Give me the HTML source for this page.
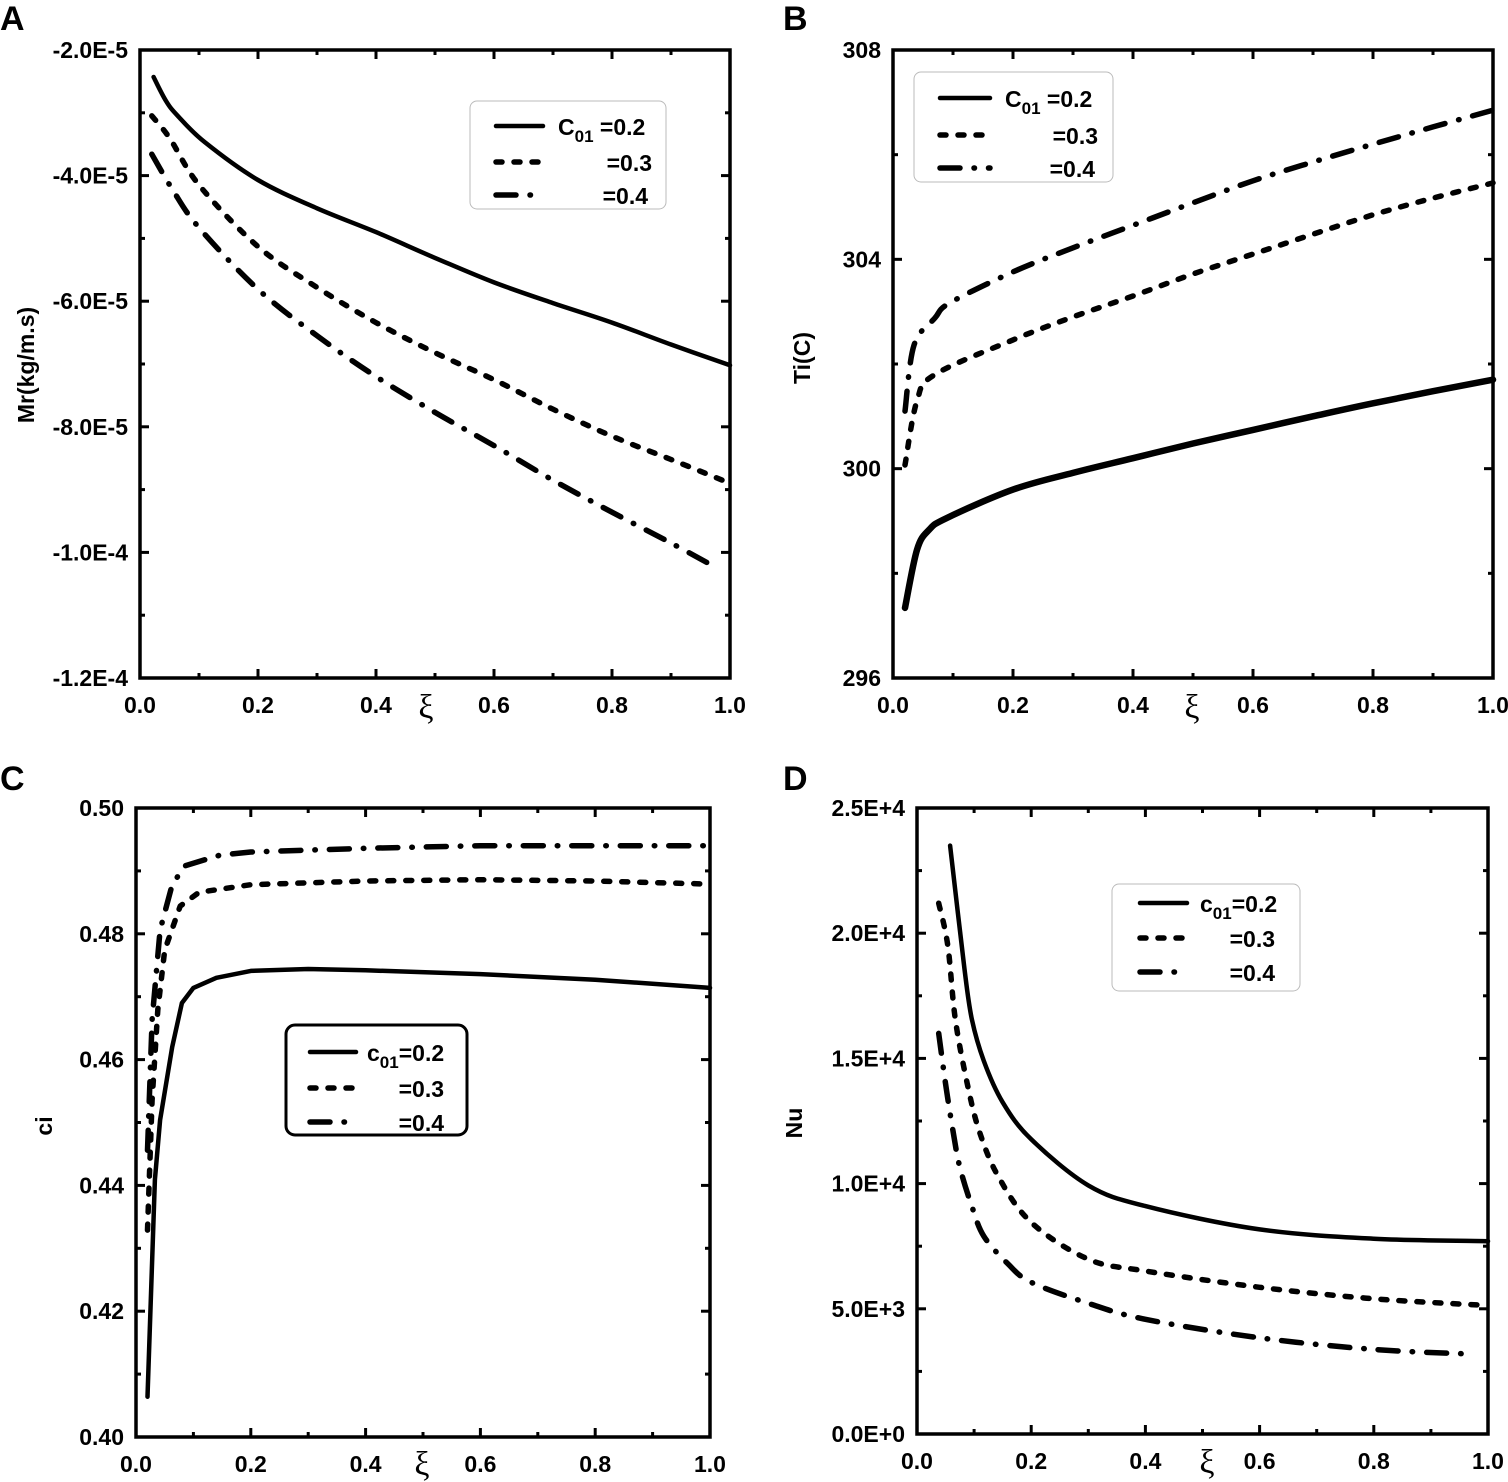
<!DOCTYPE html>
<html><head><meta charset="utf-8">
<style>
html,body{margin:0;padding:0;background:#fff;}
svg{display:block;}
text{font-family:"Liberation Sans",Arial,sans-serif;font-weight:bold;fill:#000;}
.xi{font-family:"Liberation Serif","DejaVu Serif",serif;font-weight:normal;font-size:34px;}
</style></head>
<body>
<svg id="fig" width="1508" height="1482" viewBox="0 0 1508 1482" xmlns="http://www.w3.org/2000/svg"></svg>
<script>
// ---- Panel A data (Mr vs xi) ----
const aX1=[0.023,0.044,0.064,0.11,0.2,0.3,0.4,0.5,0.6,0.7,0.8,0.9,1.0];
const aY1=[-2.43e-5,-2.81e-5,-3.05e-5,-3.47e-5,-4.07e-5,-4.52e-5,-4.9e-5,-5.31e-5,-5.7e-5,-6.03e-5,-6.34e-5,-6.69e-5,-7.02e-5];
const aX2=[0.02,0.05,0.1,0.2,0.3,0.4,0.5,0.6,0.7,0.8,0.9,1.0];
const aY2=[-3.05e-5,-3.4e-5,-4.15e-5,-5.13e-5,-5.78e-5,-6.34e-5,-6.82e-5,-7.25e-5,-7.72e-5,-8.15e-5,-8.52e-5,-8.9e-5];
const aX3=[0.02,0.055,0.1,0.2,0.3,0.4,0.5,0.6,0.7,0.8,0.9,0.98];
const aY3=[-3.66e-5,-4.22e-5,-4.83e-5,-5.81e-5,-6.55e-5,-7.2e-5,-7.77e-5,-8.3e-5,-8.85e-5,-9.36e-5,-9.85e-5,-1.026e-4];
const aYTicks=[-1.2e-4,-1e-4,-8e-5,-6e-5,-4e-5,-2e-5];
const aYLabels=["-1.2E-4","-1.0E-4","-8.0E-5","-6.0E-5","-4.0E-5","-2.0E-5"];
// ---- Panel B data (Ti vs xi) ----
const bX1=[0.02,0.04,0.06,0.09,0.2,0.3,0.4,0.5,0.6,0.7,0.8,0.9,1.0];
const bY1=[297.34,298.45,298.83,299.06,299.6,299.92,300.2,300.48,300.74,301.0,301.25,301.48,301.7];
const bX2=[0.02,0.04,0.07,0.2,0.3,0.4,0.5,0.6,0.7,0.8,0.9,1.0];
const bY2=[300.07,301.3,301.8,302.46,302.9,303.3,303.72,304.1,304.48,304.85,305.17,305.46];
const bX3=[0.02,0.035,0.07,0.095,0.2,0.3,0.4,0.5,0.6,0.7,0.8,0.9,1.0];
const bY3=[301.1,302.36,302.88,303.17,303.76,304.22,304.65,305.08,305.5,305.86,306.2,306.53,306.85];
const bYTicks=[296,300,304,308];
const bYLabels=["296","300","304","308"];
// ---- Panel C data (ci vs xi) ----
const cX1=[0.02,0.033,0.042,0.063,0.08,0.1,0.14,0.2,0.3,0.4,0.6,0.8,1.0];
const cY1=[0.4064,0.4409,0.4504,0.462,0.469,0.4714,0.473,0.4741,0.4744,0.4742,0.4736,0.4727,0.4714];
const cX2=[0.02,0.028,0.038,0.05,0.077,0.11,0.2,0.4,0.6,0.8,1.0];
const cY2=[0.4329,0.4536,0.4679,0.4774,0.4844,0.4866,0.4878,0.4884,0.4886,0.4884,0.4879];
const cX3=[0.02,0.028,0.042,0.063,0.085,0.146,0.2,0.4,0.6,1.0];
const cY3=[0.4456,0.4663,0.4806,0.4878,0.4908,0.4925,0.493,0.4936,0.494,0.494];
const cYTicks=[0.40,0.42,0.44,0.46,0.48,0.50];
const cYLabels=["0.40","0.42","0.44","0.46","0.48","0.50"];
// ---- Panel D data (Nu vs xi) ----
const dX1=[0.058,0.083,0.096,0.117,0.15,0.2,0.3,0.4,0.6,0.8,1.0];
const dY1=[23500,18600,16570,14900,13250,11770,9930,9100,8170,7800,7700];
const dX2=[0.038,0.054,0.067,0.088,0.109,0.142,0.2,0.3,0.4,0.6,0.8,1.0];
const dY2=[21200,19500,16570,14000,12100,10300,8450,6980,6510,5860,5400,5130];
const dX3=[0.038,0.05,0.063,0.075,0.096,0.117,0.159,0.2,0.3,0.4,0.6,0.8,0.97];
const dY3=[16000,14000,12100,10660,9100,7900,6800,6060,5220,4580,3840,3380,3190];
const dYTicks=[0,5000,10000,15000,20000,25000];
const dYLabels=["0.0E+0","5.0E+3","1.0E+4","1.5E+4","2.0E+4","2.5E+4"];
// ---- shared x axis ----
const xTicks=[0,0.2,0.4,0.6,0.8,1.0];
const xLabels=["0.0","0.2","0.4","0.6","0.8","1.0"];

const NS="http://www.w3.org/2000/svg";
const svg=document.getElementById('fig');
function mk(tag,attrs,parent){const e=document.createElementNS(NS,tag);for(const k in attrs)e.setAttribute(k,attrs[k]);(parent||svg).appendChild(e);return e;}
const STY={solid:{dash:"none",w:4.5},dash:{dash:"6 12",w:5.5},dashdot:{dash:"20 14 0.5 14",w:5.5}};

function pathFrom(P,smooth){
  let d='M'+P[0][0].toFixed(1)+','+P[0][1].toFixed(1);
  for(let i=0;i<P.length-1;i++){
    if(!smooth){d+=' L'+P[i+1][0].toFixed(1)+','+P[i+1][1].toFixed(1);continue;}
    const p0=P[Math.max(0,i-1)],p1=P[i],p2=P[i+1],p3=P[Math.min(P.length-1,i+2)];
    const c1x=p1[0]+(p2[0]-p0[0])/6,c1y=p1[1]+(p2[1]-p0[1])/6;
    const c2x=p2[0]-(p3[0]-p1[0])/6,c2y=p2[1]-(p3[1]-p1[1])/6;
    d+=` C${c1x.toFixed(1)},${c1y.toFixed(1)} ${c2x.toFixed(1)},${c2y.toFixed(1)} ${p2[0].toFixed(1)},${p2[1].toFixed(1)}`;
  }
  return d;
}

function panel(p){
  const g=mk('g',{});
  
  
  const sx=v=>p.x0+(v-0)/(1-0)*(p.x1-p.x0);
  const sy=v=>p.y1-(v-p.ymin)/(p.ymax-p.ymin)*(p.y1-p.y0);
  p.series.forEach((s,i)=>{
    const P=s.x.map((xv,j)=>[sx(xv),sy(s.y[j])]);
    const st=STY[s.style];
    const pl=mk('path',{d:pathFrom(P,p.smooth),fill:'none',stroke:'#000','stroke-width':s.w||st.w,'stroke-linecap':'round','stroke-linejoin':'round','stroke-dasharray':st.dash},g);
    
    
  });
  const fr=mk('rect',{x:p.x0,y:p.y0,width:p.x1-p.x0,height:p.y1-p.y0,fill:'none',stroke:'#000','stroke-width':3.5},g);
  
  
  for(let k=0;k<=10;k++){
    const v=k/10,X=sx(v),L=(k%2==0)?9:5;
    mk('line',{x1:X,x2:X,y1:p.y1,y2:p.y1-L,stroke:'#000','stroke-width':3},g);
    mk('line',{x1:X,x2:X,y1:p.y0,y2:p.y0+L,stroke:'#000','stroke-width':3},g);
  }
  xTicks.forEach((v,i)=>{
    const t=mk('text',{x:sx(v),y:p.y1+35,'text-anchor':'middle','font-size':23},g);t.textContent=xLabels[i];
    
    
  });
  for(let k=0;k<p.yTicks.length;k++){
    const v=p.yTicks[k],Y=sy(v);
    mk('line',{x1:p.x0,x2:p.x0+9,y1:Y,y2:Y,stroke:'#000','stroke-width':3},g);
    mk('line',{x1:p.x1,x2:p.x1-9,y1:Y,y2:Y,stroke:'#000','stroke-width':3},g);
    const t=mk('text',{x:p.x0-12,y:Y+8,'text-anchor':'end','font-size':23},g);t.textContent=p.yLabels[k];
    
    
    if(k<p.yTicks.length-1){
      const m=sy((v+p.yTicks[k+1])/2);
      mk('line',{x1:p.x0,x2:p.x0+5,y1:m,y2:m,stroke:'#000','stroke-width':3},g);
      mk('line',{x1:p.x1,x2:p.x1-5,y1:m,y2:m,stroke:'#000','stroke-width':3},g);
    }
  }
  const xi=mk('text',{x:p.xiX,y:p.xiY,'text-anchor':'middle','class':'xi'},g);xi.textContent='ξ';
  
  
  const yt=mk('text',{x:0,y:0,'text-anchor':'middle','font-size':23,transform:`translate(${p.ytX},${p.ytY}) rotate(-90)`},g);yt.textContent=p.ytitle;
  
  
  const pl=mk('text',{x:p.lx,y:p.ly,'font-size':34},g);pl.textContent=p.letter;
  
  
  const L=p.leg;
  const lg=mk('g',{},g);
  
  
  mk('rect',{x:L.x,y:L.y,width:L.w,height:L.h,rx:L.rx,fill:'#fff',stroke:L.stroke,'stroke-width':L.sw},lg);
  const styles=['solid','dash','dashdot'];
  L.rows.forEach((ry,i)=>{
    const st=STY[styles[i]];
    const ln=mk('line',{x1:L.lx1,x2:L.lx2,y1:ry,y2:ry,stroke:'#000','stroke-width':st.w,'stroke-linecap':'round','stroke-dasharray':st.dash},lg);
    
    
    const t=mk('text',{x:L.tx[i],y:ry+9,'font-size':23,'text-anchor':i==0?'start':'end'},lg);
    if(i==0){t.innerHTML=`<tspan>${L.c}</tspan><tspan font-size="17" dy="7">01</tspan><tspan dy="-7">${L.gap}=0.2</tspan>`;}
    else t.textContent=i==1?'=0.3':'=0.4';
    
    
  });
}

panel({id:'a',letter:'A',lx:0,ly:30,x0:140,x1:730,y0:50,y1:678,ymin:-1.2e-4,ymax:-2e-5,yTicks:aYTicks,yLabels:aYLabels,smooth:true,
  xiX:426,xiY:718,ytitle:'Mr(kg/m.s)',ytX:34,ytY:365,
  series:[{name:'c01-0.2',style:'solid',x:aX1,y:aY1},{name:'c01-0.3',style:'dash',x:aX2,y:aY2},{name:'c01-0.4',style:'dashdot',x:aX3,y:aY3}],
  leg:{x:470,y:101,w:196,h:108,rx:7,stroke:'#bbb',sw:1,lx1:496,lx2:543,rows:[126,162,195],tx:[558,652,648],c:'C',gap:' '}});
panel({id:'b',letter:'B',lx:783,ly:30,x0:893,x1:1493,y0:50,y1:678,ymin:296,ymax:308,yTicks:bYTicks,yLabels:bYLabels,smooth:true,
  xiX:1192,xiY:718,ytitle:'Ti(C)',ytX:810,ytY:358,
  series:[{name:'c01-0.2',style:'solid',w:6.5,x:bX1,y:bY1},{name:'c01-0.3',style:'dash',x:bX2,y:bY2},{name:'c01-0.4',style:'dashdot',x:bX3,y:bY3}],
  leg:{x:914,y:72,w:199,h:110,rx:7,stroke:'#bbb',sw:1,lx1:940,lx2:990,rows:[98,135,168],tx:[1005,1098,1095],c:'C',gap:' '}});
panel({id:'c',letter:'C',lx:0,ly:790,x0:136,x1:710,y0:808,y1:1437,ymin:0.40,ymax:0.50,yTicks:cYTicks,yLabels:cYLabels,smooth:false,
  xiX:422,xiY:1475,ytitle:'ci',ytX:52,ytY:1126,
  series:[{name:'c01-0.2',style:'solid',x:cX1,y:cY1},{name:'c01-0.3',style:'dash',x:cX2,y:cY2},{name:'c01-0.4',style:'dashdot',x:cX3,y:cY3}],
  leg:{x:286,y:1025,w:181,h:110,rx:9,stroke:'#000',sw:3,lx1:310,lx2:356,rows:[1052,1088,1122],tx:[367,444,444],c:'c',gap:''}});
panel({id:'d',letter:'D',lx:783,ly:790,x0:917,x1:1488,y0:808,y1:1434,ymin:0,ymax:25000,yTicks:dYTicks,yLabels:dYLabels,smooth:true,
  xiX:1207,xiY:1473,ytitle:'Nu',ytX:802,ytY:1123,
  series:[{name:'c01-0.2',style:'solid',x:dX1,y:dY1},{name:'c01-0.3',style:'dash',x:dX2,y:dY2},{name:'c01-0.4',style:'dashdot',x:dX3,y:dY3}],
  leg:{x:1112,y:884,w:188,h:107,rx:7,stroke:'#bbb',sw:1,lx1:1140,lx2:1187,rows:[903,938,972],tx:[1200,1275,1275],c:'c',gap:''}});
</script>
</body></html>
